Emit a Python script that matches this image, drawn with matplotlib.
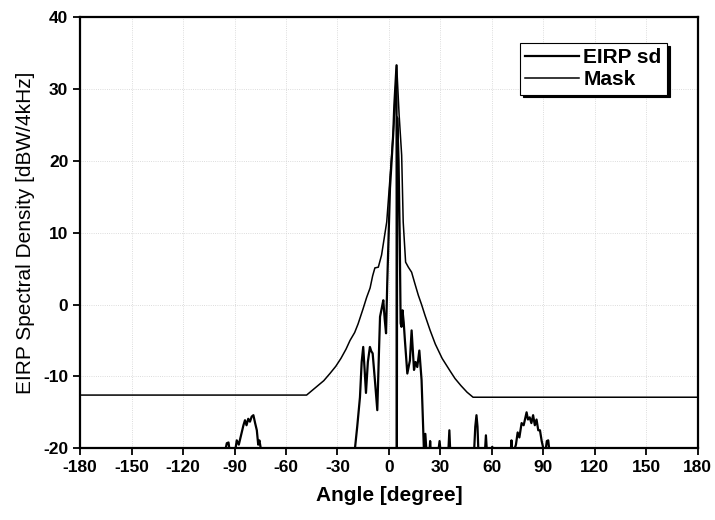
"""
EIRP spectral density vs. off-axis angle, with the regulatory mask.
Values read off the scanned reference figure.
"""

import matplotlib
matplotlib.use('Agg')
import matplotlib.pyplot as plt

plt.rcParams['font.family'] = ['Liberation Sans', 'DejaVu Sans']
plt.rcParams['axes.unicode_minus'] = False

# Mask envelope (angle [deg], level [dBW/4kHz])
mask_angle = [-180, -48, -45, -42, -38, -34.4, -31, -28, -25, -22.7, -20, -18,
              -15.1, -13, -11, -9.5, -8.2, -6.2, -4.3, -1.3, 1.6, 3.2, 4.5,
              5.9, 7.4, 8.3, 9.7, 11.3, 13.2, 15, 17.1, 19, 21, 24, 27, 31,
              35.5, 38.5, 42, 45.5, 49, 180]
mask_level = [-12.6, -12.6, -12.0, -11.4, -10.6, -9.6, -8.6, -7.5, -6.2, -5.0,
              -3.9, -2.7, -0.6, 1.0, 2.3, 4.0, 5.1, 5.2, 6.9, 11.5, 20.8, 26.5,
              33.3, 26.5, 20.8, 11.5, 5.9, 5.2, 4.5, 3.0, 1.3, 0.0, -1.5, -3.6,
              -5.5, -7.5, -9.2, -10.3, -11.3, -12.2, -12.9, -12.9]

# EIRP spectral density of the antenna pattern
eirp_angle = [-180, -96,
              -94.5, -93.5, -92.5, -90, -88.7, -87.5, -85.8, -84.8, -83.9, -83,
              -82, -81, -80, -79, -78, -77, -76.2, -75.5, -74,
              -21, -19.8, -18.5, -16.9, -15.9, -15, -14.2, -13.4, -12.3, -11.1,
              -10.3, -9.5, -8.2, -6.8, -6, -5.2, -4.2, -3.3, -2.5, -1.7, -1.0,
              0.6, 2.5, 3.1, 4.4, 4.6, 4.8, 5.6, 6.3, 6.8, 7.3, 7.9, 8.6, 9.3,
              10.7, 12.2, 13.2, 14.6, 15.5, 16.5, 17.7, 19, 20.4, 21.2, 22,
              23.5, 24, 24.5, 28.5, 29.5, 30.3, 34.5, 35.2, 35.8,
              49.5, 50.3, 51, 51.6, 52.2, 55.8, 56.5, 57.2, 59.8, 60.2, 60.6,
              70.8, 71.4, 72, 74, 75, 76, 77.3, 78.5, 80.2, 81, 82, 83, 84, 85,
              86, 87, 88, 89, 90.9, 92, 92.8, 93.8, 180]
eirp_level = [-21, -21,
              -19.3, -19.2, -21, -21, -18.9, -19.5, -17.8, -16.8, -16.1, -16.8,
              -15.9, -16.3, -15.6, -15.4, -16.5, -17.5, -19.5, -18.9, -21,
              -21, -20, -17, -12.9, -8, -5.9, -9, -12.3, -8, -5.9,
              -6.5, -6.8, -10.5, -14.7, -8, -1.7, -0.5, 0.6, -2, -4, 3,
              16.2, 23.8, 27.7, 33.3, -21, 26, 20, 9, -2.6, -3.1, -0.8, -2.5, -5,
              -9.6, -7.8, -3.6, -9.1, -8, -8.7, -6.4, -10.5, -20.5, -18, -21,
              -21, -19, -21, -21, -19, -21, -21, -17.5, -21,
              -21, -17, -15.4, -17, -21, -21, -18.2, -21, -21, -19.8, -21,
              -21, -18.9, -21, -19.5, -17.8, -18.5, -16.5, -16.8, -15, -16, -15.7, -16.5, -15.4, -16.8,
              -16, -17.5, -17.5, -19, -21, -19, -18.9, -21, -21]

x_ticks = list(range(-180, 181, 30))
y_ticks = list(range(-20, 41, 10))

fig = plt.figure(figsize=(7.15, 5.2), dpi=100)
ax = fig.add_axes([0.112, 0.138, 0.864, 0.829])

ax.plot(eirp_angle, eirp_level, color='black', linewidth=1.6, label='EIRP sd')
ax.plot(mask_angle, mask_level, color='black', linewidth=1.1, label='Mask')

ax.set_xlim(-180, 180)
ax.set_ylim(-20, 40)
ax.set_xticks(x_ticks)
ax.set_yticks(y_ticks)
ax.grid(True, linestyle=':', color='0.82', linewidth=0.6)

for lab in ax.get_xticklabels() + ax.get_yticklabels():
    lab.set_fontweight('bold')
ax.tick_params(direction='out', length=5, width=1.3, labelsize=12.5)
for sp in ax.spines.values():
    sp.set_linewidth(1.6)

ax.set_xlabel('Angle [degree]', fontsize=15, fontweight='bold', labelpad=8)
ax.set_ylabel('EIRP Spectral Density [dBW/4kHz]', fontsize=15, labelpad=6)

leg = ax.legend(loc='upper right', bbox_to_anchor=(0.95, 0.94),
                borderaxespad=0, borderpad=0.25, labelspacing=0.15,
                handlelength=2.6, handletextpad=0.2,
                prop={'weight': 'bold', 'size': 15},
                fancybox=False, framealpha=1,
                shadow={'color': 'black', 'alpha': 1})
leg.get_frame().set_edgecolor('black')
leg.get_frame().set_linewidth(0.8)

fig.savefig('out.png', dpi=100)
